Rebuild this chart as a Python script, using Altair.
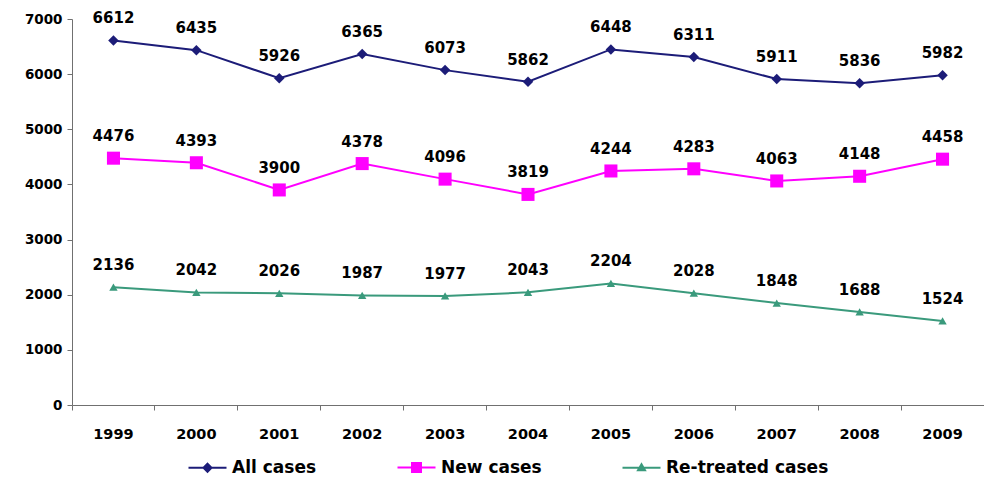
import altair as alt
import pandas as pd

years = ["1999", "2000", "2001", "2002", "2003", "2004", "2005", "2006", "2007", "2008", "2009"]
all_cases = [6612, 6435, 5926, 6365, 6073, 5862, 6448, 6311, 5911, 5836, 5982]
new_cases = [4476, 4393, 3900, 4378, 4096, 3819, 4244, 4283, 4063, 4148, 4458]
retreated_cases = [2136, 2042, 2026, 1987, 1977, 2043, 2204, 2028, 1848, 1688, 1524]

series_names = ["All cases", "New cases", "Re-treated cases"]
series_colors = ["#1c1c78", "#ff00ff", "#3a9a7c"]
series_shapes = ["diamond", "square", "triangle-up"]
series_sizes = [110, 170, 70]

# legend symbols: a short line with the marker (drawn solid with strokes) in its middle
legend_paths = [
    "M-1,0L6.6,0M2.8,-0.8L3.6,0L2.8,0.8L2,0ZM2.8,-0.4L3.2,0L2.8,0.4L2.4,0ZM2.8,-0.8L2.8,0.8",
    "M-1,0L6.6,0M1.9,-0.9L3.7,-0.9L3.7,0.9L1.9,0.9ZM2.3,-0.5L3.3,-0.5L3.3,0.5L2.3,0.5ZM2.8,-0.9L2.8,0.9",
    "M-1,0L6.6,0M2.8,-0.7L3.5,0.5L2.1,0.5ZM2.8,-0.3L3.1,0.3L2.5,0.3Z",
]

rows = []
for name, vals in zip(series_names, [all_cases, new_cases, retreated_cases]):
    for y, v in zip(years, vals):
        rows.append({"Year": y, "Cases": v, "Series": name})
df = pd.DataFrame(rows)

FONT = "DejaVu Sans"

x_enc = alt.X(
    "Year:O",
    bandPosition=0.5,
    scale=alt.Scale(type="band", paddingInner=0, paddingOuter=0),
    axis=alt.Axis(
        title=None, labelAngle=0, bandPosition=0, labelFont=FONT, labelFontWeight="bold",
        labelFontSize=14.5, labelColor="black", domainColor="#707070", tickColor="#707070",
        tickSize=5, labelPadding=17, grid=False, ticks=True,
    ),
)
y_enc = alt.Y(
    "Cases:Q",
    scale=alt.Scale(domain=[0, 7000], nice=False),
    axis=alt.Axis(
        title=None, values=list(range(0, 7001, 1000)), format="d", labelFont=FONT,
        labelFontWeight="bold", labelFontSize=13.5, labelColor="black",
        domainColor="#707070", tickColor="#707070", tickSize=5, labelPadding=5, grid=False,
    ),
)

legend_def = alt.Legend(
    title=None, orient="none", direction="horizontal", legendX=113, legendY=440,
    labelFont=FONT, labelFontWeight="bold", labelFontSize=17, labelColor="black",
    columnPadding=76, symbolSize=100, labelOffset=30, symbolStrokeWidth=2, labelLimit=400,
)

color_enc = alt.Color(
    "Series:N",
    scale=alt.Scale(domain=series_names, range=series_colors),
    legend=legend_def,
)

base = alt.Chart(df)
lines = base.mark_line(strokeWidth=2).encode(x=x_enc, y=y_enc, color=color_enc, detail="Series:N")

point_layers = []
for name, shp, sz in zip(series_names, series_shapes, series_sizes):
    point_layers.append(
        base.transform_filter(alt.datum.Series == name)
        .mark_point(filled=True, opacity=1, shape=shp, size=sz)
        .encode(x=x_enc, y=y_enc, color=color_enc)
    )

labels = base.mark_text(
    font=FONT, fontWeight="bold", fontSize=15, color="black", dy=-22, baseline="middle"
).encode(x=x_enc, y=y_enc, text="Cases:Q")

legend_layer = base.transform_filter("false").mark_point(filled=False, opacity=1, strokeWidth=2, size=100).encode(
    x=x_enc, y=y_enc,
    color=color_enc,
    shape=alt.Shape("Series:N", scale=alt.Scale(domain=series_names, range=legend_paths), legend=legend_def),
)

chart = (
    alt.layer(lines, *point_layers, labels, legend_layer)
    .properties(
        width=912, height=386,
        autosize=alt.AutoSizeParams(type="none"),
        padding={"left": 72, "top": 19, "right": 0, "bottom": 78},
        background="white",
    )
    .configure_view(stroke=None)
)

chart.save("out.html", embed_options={"renderer": "svg", "actions": False})
